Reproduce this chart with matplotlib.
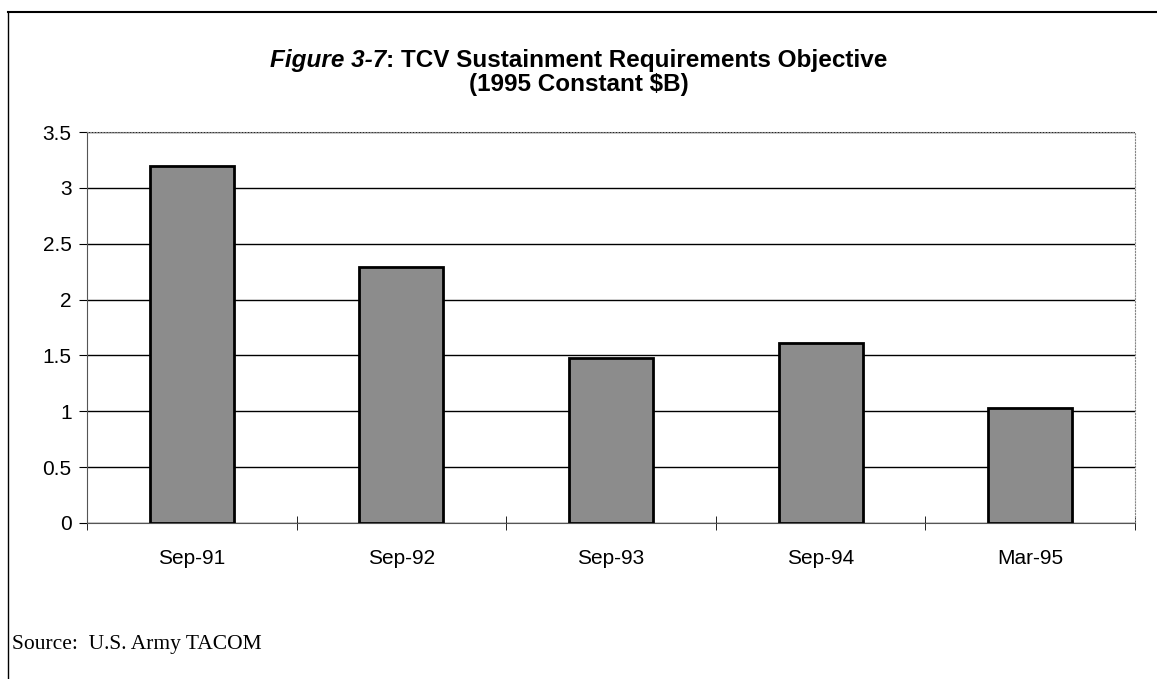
import matplotlib.pyplot as plt
import numpy as np

# data
dates = ["Sep-91", "Sep-92", "Sep-93", "Sep-94", "Mar-95"]
cost = [3.2, 2.29, 1.48, 1.61, 1.03]

plt.rcParams['font.family'] = ['Liberation Sans', 'DejaVu Sans']

fig = plt.figure(figsize=(11.57, 6.79), dpi=100)
ax = fig.add_axes([87 / 1157, 1 - 523 / 679, 1048 / 1157, 391 / 679])

xx = np.arange(len(dates))
ax.bar(xx, cost, width=0.4, color='#8c8c8c', edgecolor='black', linewidth=2, zorder=3)

ax.set_xlim(-0.5, len(dates) - 0.5)
ax.set_ylim(0, 3.5)
ax.set_yticks(np.arange(0, 3.51, 0.5))
ax.set_yticklabels(["0", "0.5", "1", "1.5", "2", "2.5", "3", "3.5"], fontsize=15)
ax.yaxis.grid(True, color='black', linewidth=1, zorder=0)

# category labels centered, ticks between categories
ax.set_xticks(xx)
ax.set_xticklabels(dates, fontsize=15)
ax.tick_params(axis='x', length=0, pad=19)
ax.set_xticks(np.arange(len(dates) + 1) - 0.5, minor=True)
ax.tick_params(axis='x', which='minor', direction='inout', length=10, color='black')
ax.tick_params(axis='y', direction='out', length=6, pad=5)

for s in ['top', 'right']:
    ax.spines[s].set_color('#888888')
    ax.spines[s].set_linestyle(':')
ax.spines['left'].set_color('#555555')
ax.spines['bottom'].set_color('#555555')

# title with italic prefix
fs = 17.5
t1 = fig.text(0.5, 1 - 60 / 679, "Figure 3-7: TCV Sustainment Requirements Objective",
              ha='center', va='center', fontsize=fs, weight='bold', alpha=0)
fig.canvas.draw()
r = fig.canvas.get_renderer()
left = t1.get_window_extent(r).x0
p1 = fig.text(left / 1157, 1 - 60 / 679, "Figure 3-7", ha='left', va='center',
              fontsize=fs, weight='bold', style='italic')
w1 = p1.get_window_extent(r)
fig.text(w1.x1 / 1157, 1 - 60 / 679, ": TCV Sustainment Requirements Objective",
         ha='left', va='center', fontsize=fs, weight='bold')
fig.text(0.5, 1 - 85 / 679, "(1995 Constant $B)", ha='center', va='center',
         fontsize=fs, weight='bold')

fig.text(12 / 1157, 1 - 645 / 679, "Source:  U.S. Army TACOM", ha='left', va='center',
         fontsize=15.5, family='Liberation Serif')

# page border
fig.add_artist(plt.Line2D([8 / 1157, 8 / 1157], [0, 1 - 12 / 679], color='black', linewidth=1))
fig.add_artist(plt.Line2D([8 / 1157, 1], [1 - 12 / 679, 1 - 12 / 679], color='black', linewidth=1.5))

fig.savefig("out.png", dpi=100)
